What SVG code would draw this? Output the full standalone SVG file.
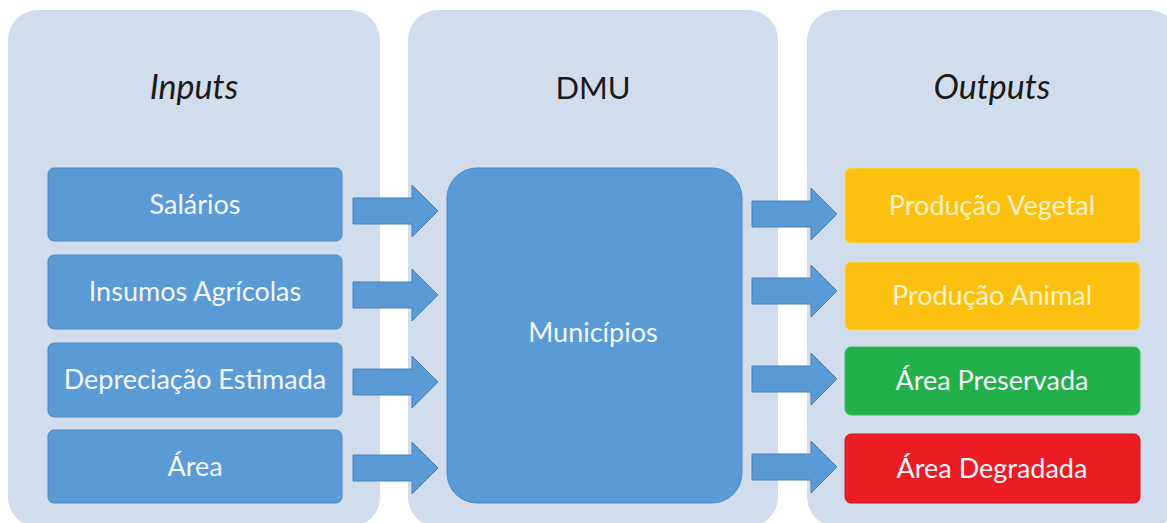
<svg xmlns="http://www.w3.org/2000/svg" width="1167" height="523" viewBox="0 0 1167 523">
<defs>
<style>
.panel{fill:#d1ddec}
.blue{fill:#5b9bd5;stroke:#4f88c2;stroke-width:1}
.yel{fill:#fcc010;stroke:#f5d860;stroke-width:1}
.grn{fill:#22b04b;stroke:#40bd64;stroke-width:1}
.red{fill:#ec1c24;stroke:#c8161d;stroke-width:1}
.title{font-family:Lato,"Liberation Sans",sans-serif;font-size:31px;fill:#1a1a1a;text-anchor:middle}
.it{font-style:italic;font-size:34px}
.lbl{font-family:Lato,"Liberation Sans",sans-serif;font-size:27px;fill:#f2f5fa;text-anchor:middle}
.lbly{fill:#fff4c8}
.arrow{fill:#5b9bd5;stroke:#4a80b8;stroke-width:1}
</style>
<path id="arr" d="M0,-13 H59 V-26 L85,0 L59,26 V13 H0 Z"/>
</defs>
<rect class="panel" x="8" y="10" width="372" height="517" rx="30"/>
<rect class="panel" x="408" y="10" width="370" height="517" rx="30"/>
<rect class="panel" x="807" y="10" width="372" height="517" rx="30"/>
<text class="title it" x="194" y="99">Inputs</text>
<text class="title" x="593" y="99">DMU</text>
<text class="title it" x="992" y="99">Outputs</text>
<g id="in-salarios"><rect class="blue" x="48" y="168" width="294" height="73" rx="6"/><text class="lbl" x="195" y="214">Salários</text></g>
<g id="in-insumos"><rect class="blue" x="48" y="255" width="294" height="74" rx="6"/><text class="lbl" x="195" y="301">Insumos Agrícolas</text></g>
<g id="in-depreciacao"><rect class="blue" x="48" y="343" width="294" height="74" rx="6"/><text class="lbl" x="195" y="389">Depreciação Estimada</text></g>
<g id="in-area"><rect class="blue" x="48" y="430" width="294" height="73" rx="6"/><text class="lbl" x="195" y="476">Área</text></g>
<g id="dmu-municipios"><rect class="blue" x="447" y="168" width="295" height="335" rx="30"/><text class="lbl" x="593" y="342">Municípios</text></g>
<g id="out-vegetal"><rect class="yel" x="845" y="168" width="295" height="75" rx="6"/><text class="lbl lbly" x="992" y="215">Produção Vegetal</text></g>
<g id="out-animal"><rect class="yel" x="845" y="262" width="295" height="68" rx="6"/><text class="lbl lbly" x="992" y="305">Produção Animal</text></g>
<g id="out-preservada"><rect class="grn" x="845" y="347" width="295" height="68" rx="6"/><text class="lbl" x="992" y="390">Área Preservada</text></g>
<g id="out-degradada"><rect class="red" x="845" y="434" width="295" height="69" rx="6"/><text class="lbl" x="992" y="478">Área Degradada</text></g>
<g id="connectors">
<use href="#arr" class="arrow" x="353" y="211"/>
<use href="#arr" class="arrow" x="353" y="295"/>
<use href="#arr" class="arrow" x="353" y="382"/>
<use href="#arr" class="arrow" x="353" y="468"/>
<use href="#arr" class="arrow" x="752" y="214"/>
<use href="#arr" class="arrow" x="752" y="291"/>
<use href="#arr" class="arrow" x="752" y="379"/>
<use href="#arr" class="arrow" x="752" y="467"/>
</g>
</svg>
